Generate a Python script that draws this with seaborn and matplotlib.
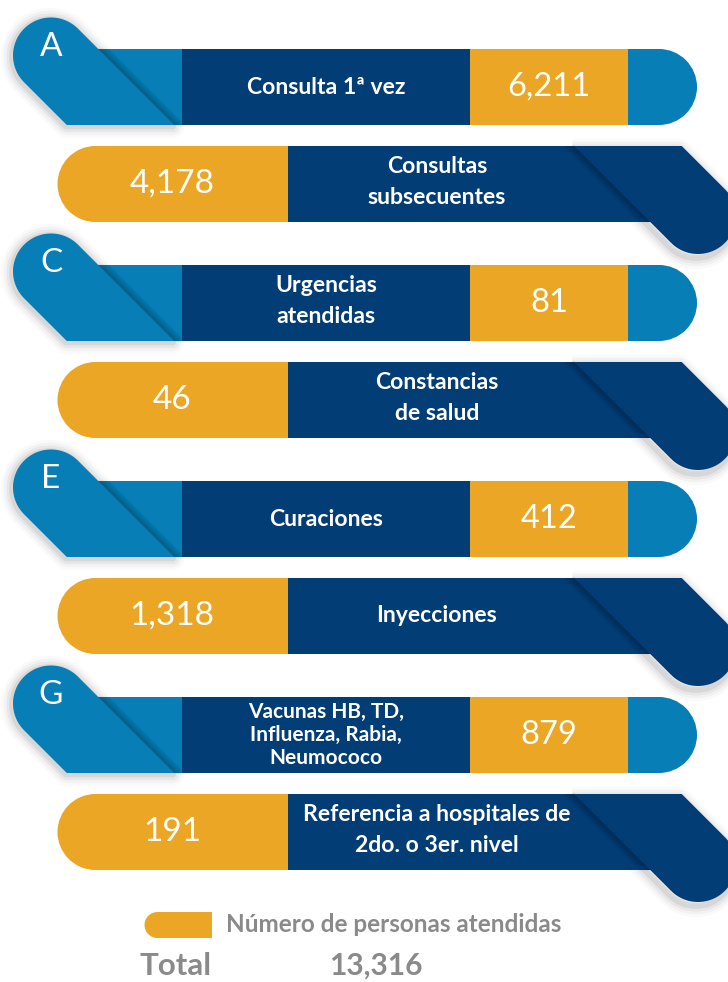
import numpy as np
import matplotlib
matplotlib.use("Agg")
import matplotlib.pyplot as plt
from matplotlib.patches import Polygon, Wedge
import seaborn as sns

# data
letters = ["A", "", "C", "", "E", "", "G", ""]
labels = [
    "Consulta 1ª vez",
    "Consultas\nsubsecuentes",
    "Urgencias\natendidas",
    "Constancias\nde salud",
    "Curaciones",
    "Inyecciones",
    "Vacunas HB, TD,\nInfluenza, Rabia,\nNeumococo",
    "Referencia a hospitales de\n2do. o 3er. nivel",
]
values = [6211, 4178, 81, 46, 412, 1318, 879, 191]
legend_label = "Número de personas atendidas"
total_label = "Total"

NAVY = "#033d76"
SKY = "#077eb5"
GOLD = "#eaa624"
GREY = "#8a8a8a"

W, H = 728, 982
BAR_H = 76
R = BAR_H / 2
HD = R / np.sqrt(2)

sns.set_theme(style="white")
plt.rcParams["font.family"] = ["Lato", "DejaVu Sans"]


def arc(cx, cy, r, a0, a1, n=60):
    t = np.radians(np.linspace(a0, a1, n))
    return np.column_stack([cx + r * np.cos(t), cy + r * np.sin(t)])


def halo(ax, verts, off=(0, 1), z=1):
    v = np.asarray(verts) + np.asarray(off)
    for lw, a in [(16, 0.02), (12, 0.03), (8, 0.045), (4, 0.065)]:
        ax.add_patch(Polygon(v, closed=True, facecolor="none", edgecolor="black",
                             alpha=a, lw=lw, joinstyle="round", zorder=z))


def fold(ax, x0, x1, top, bottom, sign, z=3):
    for k in range(12):
        ax.plot([x0 + sign * k, x1 + sign * k], [top, bottom], color="black",
                alpha=0.13 * (1 - k / 12), lw=1.1, solid_capstyle="butt", zorder=z)


fig = plt.figure(figsize=(W / 100, H / 100), dpi=100)
ax = fig.add_axes([0, 0, 1, 1])
ax.set_xlim(0, W)
ax.set_ylim(H, 0)
ax.axis("off")

tops = [49 + 216 * (i // 2) + 97 * (i % 2) for i in range(len(values))]

for i, (top, lab, val, let) in enumerate(zip(tops, labels, values, letters)):
    bottom = top + BAR_H
    yc = top + R
    txt = f"{val:,}"
    nl = lab.count("\n")
    fs = 15 if nl > 1 else 16.6
    ls = 1.18 if nl > 1 else 1.6
    ly = yc - 2 if nl == 1 else yc
    if i % 2 == 0:
        # left tab with letter
        cx, cy = 51, top + 6.5
        verts = np.vstack([
            arc(cx, cy, R, -45, -225),
            [[cx - HD + (bottom - cy - HD), bottom],
             [cx + HD + (bottom - cy + HD), bottom]],
        ])
        halo(ax, verts, off=(-1, 1.5), z=1)
        ax.barh(yc, 182 - 95, left=95, height=BAR_H, color=SKY, lw=0, zorder=2)
        fx0 = cx + 2 * HD + top - cy
        fold(ax, fx0, fx0 + BAR_H, top, bottom, +1)
        ax.add_patch(Polygon(verts, closed=True, facecolor=SKY, lw=0, zorder=4))
        ax.barh(yc, 470 - 182, left=182, height=BAR_H, color=NAVY, lw=0, zorder=5)
        ax.barh(yc, 628 - 470, left=470, height=BAR_H, color=GOLD, lw=0, zorder=5)
        ax.barh(yc, 659.5 - 628, left=628, height=BAR_H, color=SKY, lw=0, zorder=5)
        ax.add_patch(Wedge((659, yc), R, -90, 90, facecolor=SKY, lw=0, zorder=5))
        ax.text(51, top - 2, let, ha="center", va="center", fontsize=24,
                color="white", zorder=6)
        ax.text(326, ly, lab, ha="center", va="center", fontsize=fs,
                fontweight="bold", color="white", linespacing=ls, zorder=6)
        ax.text(549, yc, txt, ha="center", va="center", fontsize=23.5,
                color="white", zorder=6)
    else:
        # right ribbon tab
        cx, cy = 698, top + 70
        xl = cx - 2 * HD - 70
        xr = cx + 2 * HD - 70
        verts = np.vstack([[[xl, top], [xr, top]], arc(cx, cy, R, -45, 135)])
        halo(ax, verts, off=(-2, 4), z=1)
        ax.barh(yc, 288 - 95, left=95, height=BAR_H, color=GOLD, lw=0, zorder=2)
        ax.add_patch(Wedge((95.5, yc), R, 90, 270, facecolor=GOLD, lw=0, zorder=2))
        ax.barh(yc, 680 - 288, left=288, height=BAR_H, color=NAVY, lw=0, zorder=2)
        fold(ax, xl, xl + BAR_H, top, bottom, -1)
        ax.add_patch(Polygon(verts, closed=True, facecolor=NAVY, lw=0, zorder=4))
        ax.text(437, ly, lab, ha="center", va="center", fontsize=fs,
                fontweight="bold", color="white", linespacing=ls, zorder=6)
        ax.text(172, yc, txt, ha="center", va="center", fontsize=24,
                color="white", zorder=6)

# legend + total
ax.barh(925, 212 - 157, left=157, height=26, color=GOLD, lw=0)
ax.add_patch(Wedge((157.5, 925), 13, 90, 270, facecolor=GOLD, lw=0))
ax.text(226, 925, legend_label, ha="left", va="center", fontsize=17.5,
        fontweight="bold", color=GREY)
ax.text(139, 966, total_label, ha="left", va="center", fontsize=22.5,
        fontweight="bold", color=GREY)
ax.text(329, 966, f"{sum(values):,}", ha="left", va="center", fontsize=21.5,
        fontweight="bold", color=GREY)

fig.savefig("out.png", dpi=100)
